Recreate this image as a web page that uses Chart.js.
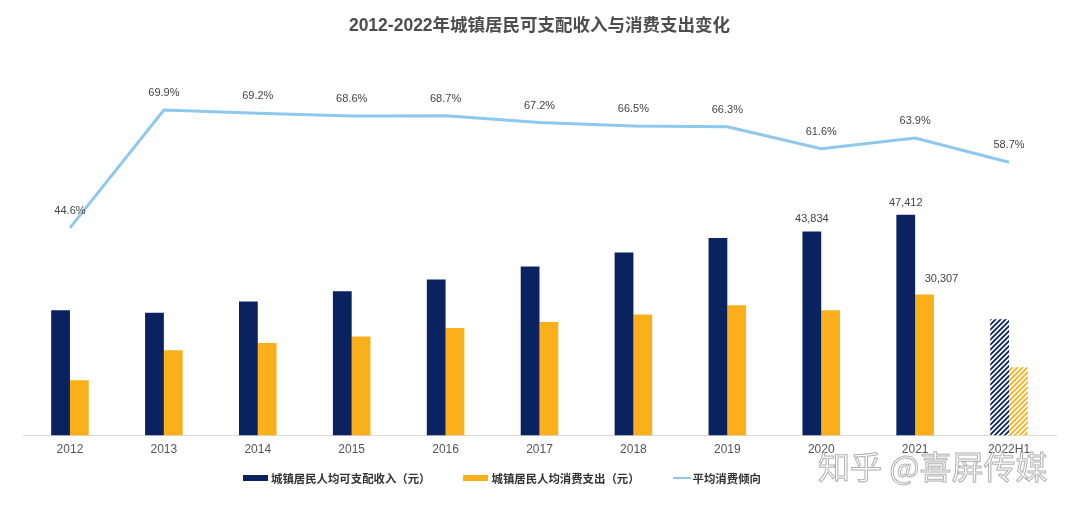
<!DOCTYPE html>
<html>
<head>
<meta charset="utf-8">
<script src="https://cdn.jsdelivr.net/npm/chart.js@4/dist/chart.umd.min.js"></script>
<style>
  html, body { margin: 0; padding: 0; background: #fff; }
  #wrap { position: relative; width: 1080px; height: 510px; }
  #legend {
    position: absolute; left: 243px; top: 470px; height: 16px;
    display: flex; align-items: center;
    font: bold 11.4px "Liberation Sans", "Noto Sans CJK SC", sans-serif; color: #333;
  }
  #legend .item { display: flex; align-items: center; margin-right: 33px; }
  #legend .box { width: 25px; height: 6px; margin-right: 3px; }
  #legend .ln { width: 18px; height: 2px; margin-right: 2px; }
  #mark {
    position: absolute; left: 818px; top: 442px;
    font: 32px "Noto Sans CJK SC", sans-serif; color: rgba(255,255,255,0.85);
    -webkit-text-stroke: 1px rgba(110,110,110,0.55);
  }
</style>
</head>
<body>
<div id="wrap">
  <canvas id="c" width="1080" height="510"></canvas>
  <div id="legend"></div>
  <div id="mark">知乎 @喜屏传媒</div>
</div>
<script>
const years = ['2012', '2013', '2014', '2015', '2016', '2017', '2018', '2019', '2020', '2021', '2022H1'];
const income = [26900, 26400, 28800, 31000, 33500, 36300, 39300, 42400, 43834, 47412, 25000];
const spending = [11900, 18300, 19900, 21300, 23100, 24400, 26000, 28000, 26900, 30307, 14700];
const propensity = [44.6, 69.9, 69.2, 68.6, 68.7, 67.2, 66.5, 66.3, 61.6, 63.9, 58.7];
const incomeLabeled = ['2020', '2021'];
const spendingLabeled = ['2021'];

const seriesNames = ['城镇居民人均可支配收入（元）', '城镇居民人均消费支出（元）', '平均消费倾向'];
const navy = '#0b2260';
const orange = '#fbb01b';
const sky = '#8ec8ee';

function hatch(color) {
    const s = 5;
    const c = document.createElement('canvas');
    c.width = s; c.height = s;
    const g = c.getContext('2d');
    g.fillStyle = '#fff';
    g.fillRect(0, 0, s, s);
    g.strokeStyle = color;
    g.lineWidth = 1.8;
    g.beginPath();
    g.moveTo(-1, s + 1); g.lineTo(s + 1, -1);
    g.moveTo(-1, 1); g.lineTo(1, -1);
    g.moveTo(s - 1, s + 1); g.lineTo(s + 1, s - 1);
    g.stroke();
    return g.createPattern(c, 'repeat');
}

const ctx = document.getElementById('c').getContext('2d');
const last = years.length - 1;
const incomeColors = years.map((y, i) => i === last ? hatch(navy) : navy);
const spendingColors = years.map((y, i) => i === last ? hatch(orange) : orange);

const fmt = n => n.toLocaleString('en-US');

const valueLabels = {
    id: 'valueLabels',
    afterDatasetsDraw(chart) {
        const g = chart.ctx;
        g.save();
        g.font = '11px "Liberation Sans", Arial, sans-serif';
        g.fillStyle = '#444';
        g.textAlign = 'center';
        g.textBaseline = 'middle';
        chart.getDatasetMeta(2).data.forEach((pt, i) => {
            g.fillText(propensity[i].toFixed(1) + '%', pt.x, pt.y - 17);
        });
        chart.getDatasetMeta(0).data.forEach((bar, i) => {
            if (incomeLabeled.includes(years[i])) g.fillText(fmt(income[i]), bar.x, bar.y - 12);
        });
        chart.getDatasetMeta(1).data.forEach((bar, i) => {
            if (spendingLabeled.includes(years[i])) g.fillText(fmt(spending[i]), bar.x + 17, bar.y - 15);
        });
        g.restore();
    }
};

new Chart(ctx, {
    type: 'bar',
    data: {
        labels: years,
        datasets: [
            { label: seriesNames[0], data: income, backgroundColor: incomeColors, yAxisID: 'y', order: 2,
              categoryPercentage: 0.4, barPercentage: 1.0 },
            { label: seriesNames[1], data: spending, backgroundColor: spendingColors, yAxisID: 'y', order: 2,
              categoryPercentage: 0.4, barPercentage: 1.0 },
            { type: 'line', label: seriesNames[2], data: propensity, borderColor: sky, backgroundColor: sky,
              borderWidth: 3, pointRadius: 0, tension: 0, yAxisID: 'y2', order: 0 }
        ]
    },
    options: {
        responsive: false,
        animation: false,
        layout: { padding: { left: 23, right: 24, bottom: 46 } },
        plugins: {
            legend: { display: false },
            tooltip: { enabled: false },
            title: {
                display: true,
                text: '2012-2022年城镇居民可支配收入与消费支出变化',
                color: '#4d4d4d',
                font: { family: '"Liberation Sans", "Noto Sans CJK SC", sans-serif', size: 17.5, weight: 'bold' },
                padding: { top: 16, bottom: 26 }
            }
        },
        scales: {
            x: {
                grid: { display: false, drawTicks: false },
                border: { display: true, color: '#d9d9d9', width: 1 },
                ticks: { color: '#555', padding: 7, font: { family: '"Liberation Sans", Arial, sans-serif', size: 12 } }
            },
            y: { display: false, min: 0, max: 80000 },
            y2: { display: false, min: 0, max: 80 }
        }
    },
    plugins: [valueLabels]
});

const legend = document.getElementById('legend');
[[navy, 'box'], [orange, 'box'], [sky, 'ln']].forEach(([col, cls], i) => {
    const item = document.createElement('div');
    item.className = 'item';
    const sw = document.createElement('span');
    sw.className = cls;
    sw.style.background = col;
    item.appendChild(sw);
    item.appendChild(document.createTextNode(seriesNames[i]));
    legend.appendChild(item);
});
</script>
</body>
</html>
